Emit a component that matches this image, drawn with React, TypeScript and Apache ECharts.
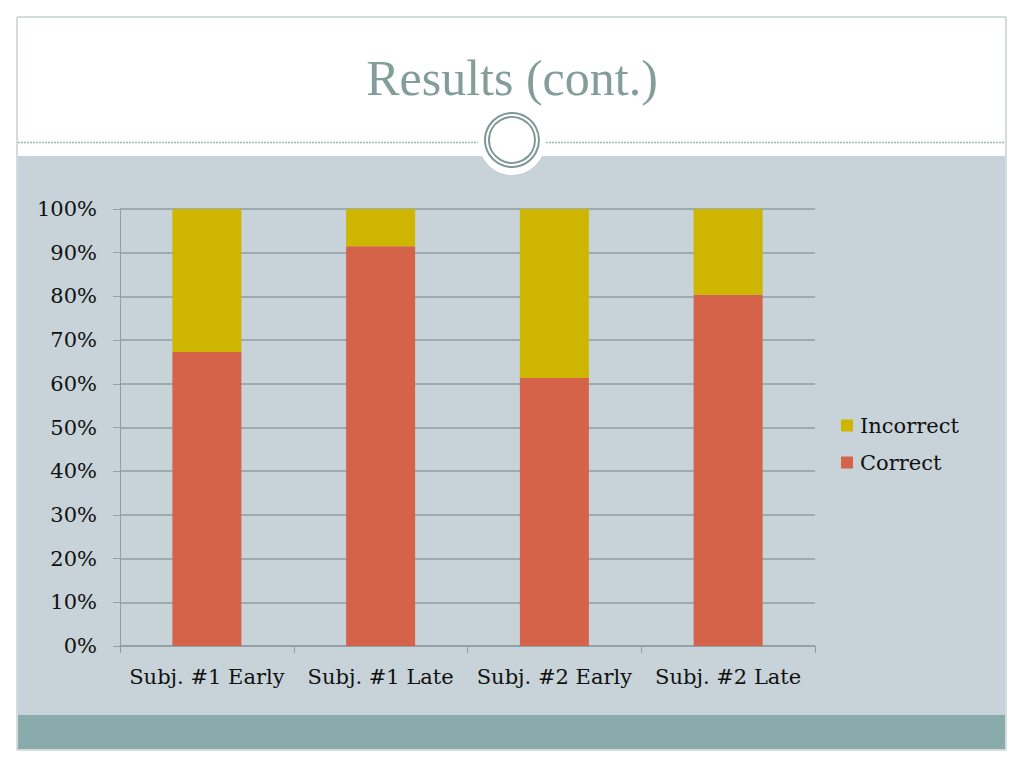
import React, { useEffect, useRef } from "react";
import * as echarts from "echarts";

const categories = ["Subj. #1 Early", "Subj. #1 Late", "Subj. #2 Early", "Subj. #2 Late"];
const correctValues = [67.3, 91.5, 61.3, 80.4];
const incorrectValues = [32.7, 8.5, 38.7, 19.6];
const yTicks = [0, 10, 20, 30, 40, 50, 60, 70, 80, 90, 100];
const titleText = "Results (cont.)";

const SERIF = "'DejaVu Serif', serif";

export default function App() {
  const ref = useRef<HTMLDivElement>(null);
  useEffect(() => {
    document.body.style.margin = "0";
    const chart = echarts.init(ref.current!, null, { renderer: "svg" });
    const gridColor = "#8f9ea3";
    chart.setOption({
      animation: false,
      backgroundColor: "#ffffff",
      graphic: [
        { type: "rect", z: -20, shape: { x: 17, y: 17, width: 989, height: 733 }, style: { fill: "#ffffff", stroke: "#a9b9b9", lineWidth: 1 } },
        { type: "rect", z: -19, shape: { x: 18, y: 156, width: 987, height: 559 }, style: { fill: "#c7d3d8" } },
        { type: "rect", z: -19, shape: { x: 18, y: 715, width: 987, height: 34 }, style: { fill: "#8aabab" } },
        { type: "line", z: -18, shape: { x1: 18, y1: 142.5, x2: 478, y2: 142.5 }, style: { stroke: "#a4b3b3", lineWidth: 1.5, lineDash: [2, 1] } },
        { type: "line", z: -18, shape: { x1: 546, y1: 142.5, x2: 1005, y2: 142.5 }, style: { stroke: "#a4b3b3", lineWidth: 1.5, lineDash: [2, 1] } },
        { type: "circle", z: -17, shape: { cx: 512, cy: 142, r: 33 }, style: { fill: "#ffffff" } },
        { type: "circle", z: -16, shape: { cx: 512, cy: 140, r: 27 }, style: { fill: "none", stroke: "#7f9797", lineWidth: 2 } },
        { type: "circle", z: -16, shape: { cx: 512, cy: 140, r: 23 }, style: { fill: "none", stroke: "#7f9797", lineWidth: 2 } },
        {
          type: "text", z: -16, x: 512, y: 78,
          style: { text: titleText, font: "50px 'Liberation Serif', serif", fill: "#839d9a", textAlign: "center", textVerticalAlign: "middle" },
        },
      ],
      legend: {
        orient: "vertical",
        left: 836,
        top: 410,
        itemWidth: 12,
        itemHeight: 12,
        itemGap: 16,
        icon: "rect",
        data: ["Incorrect", "Correct"],
        textStyle: { fontFamily: SERIF, fontSize: 21, color: "#111111", padding: [0, 0, 0, 2] },
      },
      grid: { left: 120, right: 209, top: 209, bottom: 122 },
      xAxis: {
        type: "category",
        data: categories,
        axisLine: { show: true, lineStyle: { color: gridColor, width: 1.5 } },
        axisTick: { show: true, length: 7, lineStyle: { color: gridColor } },
        axisLabel: { interval: 0, fontFamily: SERIF, fontSize: 21, color: "#111111", margin: 20, hideOverlap: false },
      },
      yAxis: {
        type: "value",
        min: yTicks[0],
        max: yTicks[yTicks.length - 1],
        interval: 10,
        axisLine: { show: true, lineStyle: { color: gridColor } },
        axisTick: { show: true, length: 7, lineStyle: { color: gridColor } },
        splitLine: { show: true, lineStyle: { color: gridColor, width: 1.5 } },
        axisLabel: { formatter: "{value}%", fontFamily: SERIF, fontSize: 21, color: "#111111", margin: 23 },
      },
      series: [
        {
          name: "Correct",
          type: "bar",
          stack: "total",
          barWidth: 69,
          data: correctValues,
          itemStyle: { color: "#d4634a" },
        },
        {
          name: "Incorrect",
          type: "bar",
          stack: "total",
          barWidth: 69,
          data: incorrectValues,
          itemStyle: { color: "#cdb500" },
        },
      ],
    });
    return () => chart.dispose();
  }, []);
  return <div ref={ref} style={{ position: "fixed", left: 0, top: 0, width: 1024, height: 768 }} />;
}
